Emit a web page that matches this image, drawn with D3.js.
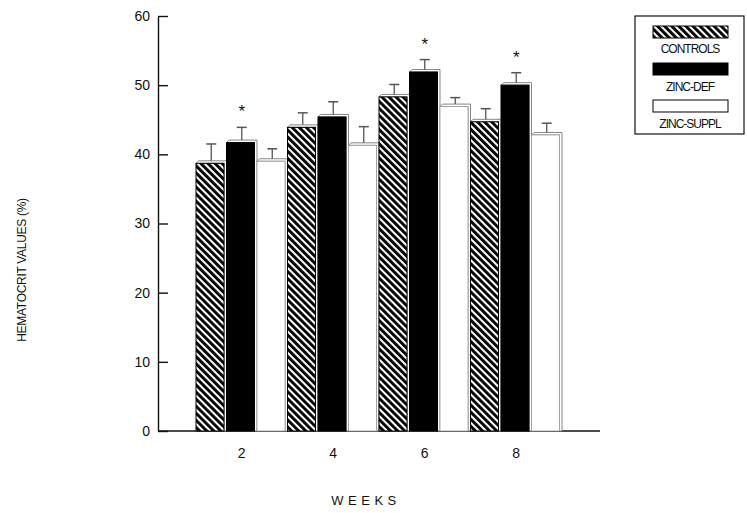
<!DOCTYPE html>
<html>
<head>
<meta charset="utf-8">
<script src="https://cdn.jsdelivr.net/npm/d3@7"></script>
<style>
  html, body { margin: 0; padding: 0; background: #fff; }
  svg { display: block; font-family: "Liberation Sans", Arial, sans-serif; }
</style>
</head>
<body>
<svg id="chart" width="747" height="513"></svg>
<script>
// Hematocrit (%) by week for the three diet groups
const weeks = ["2", "4", "6", "8"];
const groups = ["CONTROLS", "ZINC-DEF", "ZINC-SUPPL"];
const controls = [38.7, 43.9, 48.3, 44.7];
const zincDef = [41.7, 45.4, 51.9, 50.0];
const zincSuppl = [39.0, 41.3, 46.9, 42.8];
const controlsErr = [2.8, 2.1, 1.8, 1.9];
const zincDefErr = [2.2, 2.2, 1.8, 1.8];
const zincSupplErr = [1.8, 2.7, 1.3, 1.7];
const significant = [true, false, true, true]; // ZINC-DEF vs CONTROLS
const yTicks = [0, 10, 20, 30, 40, 50, 60];

const series = [controls, zincDef, zincSuppl];
const errors = [controlsErr, zincDefErr, zincSupplErr];

const svg = d3.select("#chart");

// hatch pattern for the control bars
const defs = svg.append("defs");
const pat = defs.append("pattern")
  .attr("id", "hatch")
  .attr("patternUnits", "userSpaceOnUse")
  .attr("width", 5).attr("height", 5)
  .attr("patternTransform", "rotate(-45)");
pat.append("rect").attr("width", 5).attr("height", 5).attr("fill", "#fff");
pat.append("rect").attr("width", 2.9).attr("height", 5).attr("fill", "#000");

const fills = ["url(#hatch)", "#000", "#fff"];

const x = d3.scaleBand().domain(weeks).range([196, 562]).paddingInner(0).paddingOuter(0);
const xi = d3.scaleBand().domain(groups).range([0, x.bandwidth()]);
const y = d3.scaleLinear().domain([0, 60]).range([431, 16]);

const depth = 2.5;
const barW = xi.bandwidth() - depth;

// axes
const yAxis = d3.axisLeft(y).tickValues(yTicks).tickSize(0).tickPadding(8);
const gy = svg.append("g").attr("transform", "translate(158,0)").call(yAxis);
gy.select(".domain").attr("stroke", "#111").attr("stroke-width", 1.4);
gy.selectAll(".tick text").attr("font-size", 14).attr("fill", "#111");
gy.selectAll(".tick").append("line")
  .attr("x1", 0).attr("x2", 10).attr("y1", 0).attr("y2", 0)
  .attr("stroke", "#111").attr("stroke-width", 1.4);

svg.append("line")
  .attr("x1", 158).attr("x2", 600)
  .attr("y1", y(0)).attr("y2", y(0))
  .attr("stroke", "#111").attr("stroke-width", 1.4);

// bars with a shallow 3-D top/right face
const bars = svg.append("g");
weeks.forEach((w, wi) => {
  groups.forEach((g, gi) => {
    const v = series[gi][wi];
    const x0 = x(w) + xi(g);
    const x1 = x0 + barW;
    const top = y(v);
    const base = y(0);
    bars.append("path")
      .attr("d", `M${x0},${top} L${x0 + depth},${top - depth} L${x1 + depth},${top - depth} L${x1 + depth},${base} L${x1},${base} L${x1},${top} Z`)
      .attr("fill", "#fff").attr("stroke", "#777").attr("stroke-width", 0.9);
    bars.append("rect")
      .attr("x", x0).attr("y", top)
      .attr("width", barW).attr("height", base - top)
      .attr("fill", fills[gi])
      .attr("stroke", gi === 2 ? "#999" : "#000")
      .attr("stroke-width", gi === 2 ? 0.8 : 1);
    // error bar
    const cx = x0 + barW / 2 + depth / 2;
    const ey = y(v + errors[gi][wi]);
    bars.append("line")
      .attr("x1", cx).attr("x2", cx).attr("y1", top - depth).attr("y2", ey)
      .attr("stroke", "#555").attr("stroke-width", 1.3);
    bars.append("line")
      .attr("x1", cx - 5).attr("x2", cx + 5).attr("y1", ey).attr("y2", ey)
      .attr("stroke", "#555").attr("stroke-width", 1.5);
    if (gi === 1 && significant[wi]) {
      svg.append("text")
        .attr("x", cx).attr("y", ey - 10)
        .attr("text-anchor", "middle")
        .attr("font-size", 17).attr("fill", "#111")
        .text("*");
    }
  });
});

// x tick labels
svg.append("g").selectAll("text").data(weeks).join("text")
  .attr("x", d => x(d) + x.bandwidth() / 2)
  .attr("y", 458)
  .attr("text-anchor", "middle")
  .attr("font-size", 14).attr("fill", "#111")
  .text(d => d);

// axis titles
svg.append("text")
  .attr("x", 366).attr("y", 505)
  .attr("text-anchor", "middle")
  .attr("font-size", 13).attr("letter-spacing", 4.5).attr("fill", "#111")
  .text("WEEKS");

svg.append("text")
  .attr("transform", "translate(26,270) rotate(-90)")
  .attr("text-anchor", "middle")
  .attr("font-size", 12).attr("letter-spacing", -0.3).attr("fill", "#111")
  .text("HEMATOCRIT VALUES (%)");

// legend
const lg = svg.append("g");
lg.append("rect").attr("x", 635).attr("y", 16).attr("width", 109).attr("height", 118)
  .attr("fill", "none").attr("stroke", "#111").attr("stroke-width", 1.2);
const swY = [26, 63, 100];
const lbY = [53, 91, 128];
groups.forEach((g, i) => {
  lg.append("rect").attr("x", 653).attr("y", swY[i]).attr("width", 75).attr("height", 12)
    .attr("fill", fills[i]).attr("stroke", "#000").attr("stroke-width", 1);
  lg.append("text").attr("x", 690).attr("y", lbY[i])
    .attr("text-anchor", "middle")
    .attr("font-size", 12).attr("letter-spacing", -1).attr("fill", "#111")
    .text(g);
});
</script>
</body>
</html>
